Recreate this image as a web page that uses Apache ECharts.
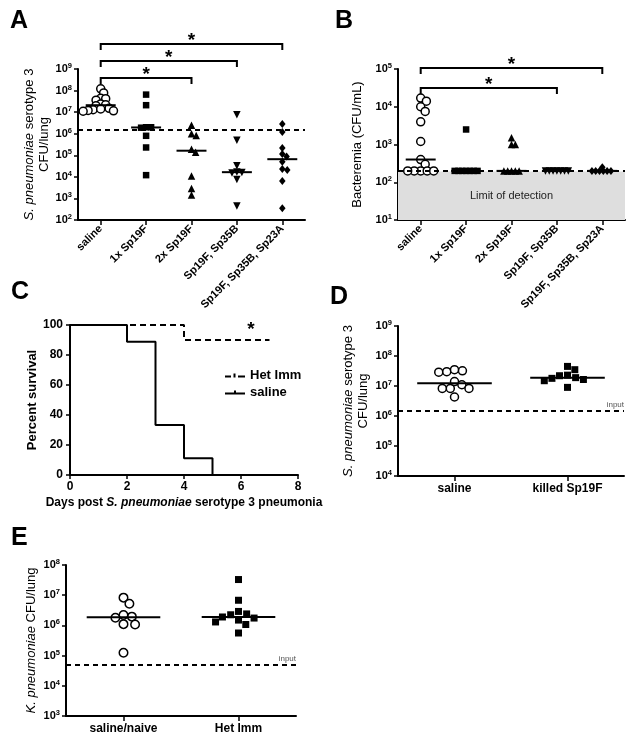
<!DOCTYPE html>
<html><head><meta charset="utf-8">
<script src="https://cdn.jsdelivr.net/npm/echarts@6/dist/echarts.min.js"></script>
<style>html,body{margin:0;padding:0;background:#fff}#c{width:635px;height:741px}</style>
</head><body><div id="c"></div>
<script>
// ---------------- DATA ----------------
const catsA = ['saline', '1x Sp19F', '2x Sp19F', 'Sp19F, Sp35B', 'Sp19F, Sp35B, Sp23A'];
const lungA_saline = [1.2e8, 7.8e7, 4.4e7, 3.6e7, 4.2e7, 2.4e7, 2.2e7, 2.0e7, 1.5e7, 1.3e7, 1.2e7, 1.1e7, 1.15e7, 1.4e7];
const lungA_1x = [6.5e7, 2.1e7, 2.0e6, 1.9e6, 2.0e6, 8.0e5, 2.3e5, 1.2e4];
const lungA_2x = [2.5e6, 1.0e6, 8.3e5, 1.4e5, 1.9e5, 1.1e4, 1.45e3, 2.9e3];
const lungA_19F35B = [7.5e6, 5.0e5, 3.3e4, 1.7e4, 1.5e4, 7.5e3, 1.6e4, 4.5e2];
const lungA_19F35B23A = [2.8e6, 1.2e6, 1.15e5, 5.0e4, 8.7e4, 2.2e5, 2.3e4, 2.1e4, 6.5e3, 3.5e2];
const inputA = 1.45e6;
const bracketsA = [[0, 2], [0, 3], [0, 4]];

const catsB = catsA;
const bloodB_saline = [1.7e4, 1.4e4, 1.0e4, 7.5e3, 4.0e3, 1.2e3, 400, 300, 200, 200, 200, 200, 200];
const bloodB_1x = [2500, 200, 200, 200, 200, 200, 200, 200];
const bloodB_2x = [1500, 1000, 1000, 200, 200, 200, 200, 200];
const bloodB_19F35B = [200, 200, 200, 200, 200, 200, 200];
const bloodB_19F35B23A = [250, 200, 200, 200, 200, 200, 200];
const limitB = 200;
const bracketsB = [[0, 3], [0, 4]];

const daysSaline = [0, 2, 3, 4, 5];
const survSaline = [100, 88.9, 33.3, 11.1, 0];
const daysHet = [0, 4, 7];
const survHet = [100, 90, 90];
const starC = [6.35, 97];

const catsD = ['saline', 'killed Sp19F'];
const lungD_saline = [3.2e7, 2.9e7, 3.0e7, 3.5e7, 1.1e7, 8.3e6, 8.3e6, 8.3e6, 1.4e7, 4.3e6];
const lungD_killed = [3.5e7, 4.5e7, 1.65e7, 2.2e7, 1.5e7, 1.8e7, 1.9e7, 2.3e7, 9.0e6];
const inputD = 1.5e6;

const catsE = ['saline/naive', 'Het Imm'];
const lungE_saline = [8.3e6, 5.2e6, 1.95e6, 2.2e6, 1.8e6, 1.1e6, 1.07e6, 1.25e5];
const lungE_het = [3.3e7, 6.8e6, 2.9e6, 2.25e6, 1.75e6, 1.3e6, 5.6e5, 1.07e6, 1.5e6, 1.9e6, 2.4e6];
const inputE = 4.8e4;

// ---------------- LAYOUT / STYLE ----------------
const FF = 'Liberation Sans, Arial, sans-serif';
const G = {
  A: {left: 78, top: 69, width: 227, height: 151},
  B: {left: 398, top: 69, width: 227, height: 151},
  C: {left: 70, top: 325, width: 228, height: 150},
  D: {left: 398, top: 326, width: 226, height: 150},
  E: {left: 66, top: 565, width: 230, height: 151}
};
const SYM = {
  circle: {symbol: 'circle', size: 8, style: {color: '#fff', borderColor: '#000', borderWidth: 1.5}},
  square: {symbol: 'rect', size: 6.5, style: {color: '#000'}},
  up: {symbol: 'triangle', size: 7.5, style: {color: '#000'}},
  down: {symbol: 'triangle', size: 7.5, rotate: 180, style: {color: '#000'}},
  diamond: {symbol: 'diamond', size: [6.5, 8], style: {color: '#000'}}
};

function median(a) {
  const s = a.slice().sort((x, y) => x - y), n = s.length;
  return n % 2 ? s[(n - 1) / 2] : Math.sqrt(s[n / 2 - 1] * s[n / 2]);
}
// beeswarm layout: horizontal offsets (px) so that symbols do not overlap more than d
function swarm(vals, pxDec, d) {
  const y = vals.map(v => -Math.log10(v) * pxDec);
  const order = vals.map((_, i) => i).sort((a, b) => y[a] - y[b]);
  const placed = [], off = new Array(vals.length).fill(0);
  order.forEach(i => {
    const cands = [0];
    placed.forEach(p => {
      const dy = y[i] - p.y;
      if (Math.abs(dy) < d) {
        const dx = Math.sqrt(d * d - dy * dy);
        cands.push(p.x + dx + 0.01, p.x - dx - 0.01);
      }
    });
    cands.sort((a, b) => (Math.abs(a) - Math.abs(b)) || (b - a));
    for (const c of cands) {
      if (placed.every(p => (p.x - c) ** 2 + (p.y - y[i]) ** 2 >= d * d - 1e-6)) {
        off[i] = c; placed.push({x: c, y: y[i]}); break;
      }
    }
  });
  return off;
}
function scatterGroup(vals, gi, xi, yi, sym, d, grid, nCat, decades) {
  const pxDec = grid.height / decades, catPx = grid.width / nCat;
  const offs = swarm(vals, pxDec, d);
  return {
    type: 'scatter', xAxisIndex: xi, yAxisIndex: yi, silent: true, z: 4,
    symbol: sym.symbol, symbolSize: sym.size, symbolRotate: sym.rotate || 0,
    itemStyle: Object.assign({opacity: 1}, sym.style),
    data: vals.map((v, k) => [gi + offs[k] / catPx, v])
  };
}
function medianSeries(groups, xi, yi, hw) {
  return {
    type: 'custom', xAxisIndex: xi, yAxisIndex: yi, silent: true, z: 5,
    data: groups.map((g, i) => [i, median(g)]),
    renderItem: (p, api) => {
      const i = api.value(0), m = api.value(1);
      const a = api.coord([i - hw, m]), b = api.coord([i + hw, m]);
      return {type: 'line', shape: {x1: a[0], y1: a[1], x2: b[0], y2: b[1]}, style: {stroke: '#000', lineWidth: 2}};
    }
  };
}
function bracketSeries(pairs, levels, xi, yi, yRef) {
  return {
    type: 'custom', xAxisIndex: xi, yAxisIndex: yi, silent: true, z: 6, clip: false,
    data: pairs.map((pr, k) => [pr[0], pr[1], levels[k]]),
    renderItem: (p, api) => {
      const top = p.coordSys.y + api.value(2);
      const x1 = api.coord([api.value(0), yRef])[0], x2 = api.coord([api.value(1), yRef])[0];
      return {type: 'group', children: [
        {type: 'polyline', shape: {points: [[x1, top + 6], [x1, top], [x2, top], [x2, top + 6]]},
         style: {stroke: '#000', lineWidth: 2, fill: null}},
        {type: 'text', style: {text: '*', x: (x1 + x2) / 2, y: top + 6, align: 'center', verticalAlign: 'bottom',
         font: 'bold 19px ' + FF, fill: '#000'}}
      ]};
    }
  };
}
const axLine = {show: true, onZero: false, lineStyle: {color: '#000', width: 2}};
const axTick = {show: true, length: 4, lineStyle: {color: '#000', width: 1.5}};
function logY(gi, min, max, name, nameGap) {
  return {
    type: 'log', logBase: 10, gridIndex: gi, min: min, max: max, splitNumber: 10,
    axisLine: axLine, axisTick: axTick, splitLine: {show: false}, minorTick: {show: false},
    axisLabel: {
      margin: 6, color: '#000',
      formatter: v => '{b|10}{s|' + Math.round(Math.log10(v)) + '}',
      rich: {
        b: {fontSize: 11, fontWeight: 'bold', fontFamily: FF, color: '#000', lineHeight: 14},
        s: {fontSize: 7.5, fontWeight: 'bold', fontFamily: FF, color: '#000', verticalAlign: 'top', lineHeight: 14, padding: [0, 0, 4, 0]}
      }
    },
    name: name, nameLocation: 'middle', nameRotate: 90, nameGap: nameGap,
    nameTextStyle: {fontSize: 13, fontFamily: FF, color: '#000', lineHeight: 15,
      rich: {i: {fontSize: 13, fontStyle: 'italic', fontFamily: FF, color: '#000', lineHeight: 15},
             n: {fontSize: 13, fontFamily: FF, color: '#000', lineHeight: 15}}}
  };
}
function catX(gi, cats, rotate, fs) {
  return {
    type: 'category', gridIndex: gi, data: cats, boundaryGap: true,
    axisLine: axLine, axisTick: {show: true, alignWithLabel: true, length: 5, lineStyle: {color: '#000', width: 1.5}},
    axisLabel: {rotate: rotate, margin: 7, interval: 0, color: '#000', fontSize: fs, fontWeight: 'bold', fontFamily: FF}
  };
}
function hidX(gi, n) {
  return {type: 'value', gridIndex: gi, min: -0.5, max: n - 0.5, show: false, splitLine: {show: false}};
}
function dashedLine(val, withLabel) {
  return {
    silent: true, symbol: ['none', 'none'], animation: false,
    lineStyle: {color: '#000', width: 2, type: [5, 4]},
    label: withLabel ? {show: true, position: 'insideEndTop', formatter: 'input', fontSize: 8, color: '#555', fontFamily: FF, distance: [0, 2]} : {show: false},
    data: [{yAxis: val}]
  };
}

// ---------------- BUILD ----------------
const grids = [G.A, G.B, G.C, G.D, G.E];
const xAxes = [
  catX(0, catsA, 45, 11), hidX(0, 5),
  catX(1, catsB, 45, 11), hidX(1, 5),
  {type: 'value', gridIndex: 2, min: 0, max: 8, interval: 2, axisLine: axLine, axisTick: axTick, splitLine: {show: false},
   axisLabel: {color: '#000', fontSize: 12, fontWeight: 'bold', fontFamily: FF, margin: 6},
   name: 'Days post {i|S. pneumoniae} serotype 3 pneumonia', nameLocation: 'middle', nameGap: 22,
   nameTextStyle: {fontSize: 12, fontWeight: 'bold', fontFamily: FF, color: '#000',
     rich: {i: {fontSize: 12, fontWeight: 'bold', fontStyle: 'italic', fontFamily: FF, color: '#000'}}}},
  catX(3, catsD, 0, 12), hidX(3, 2),
  catX(4, catsE, 0, 12), hidX(4, 2)
];
const yAxes = [
  logY(0, 1e2, 1e9, '{i|S. pneumoniae}{n| serotype 3}\n{n|CFU/lung}', 26),
  logY(1, 1e1, 1e5, 'Bacteremia (CFU/mL)', 33),
  {type: 'value', gridIndex: 2, min: 0, max: 100, interval: 20, axisLine: axLine, axisTick: axTick, splitLine: {show: false},
   axisLabel: {color: '#000', fontSize: 12, fontWeight: 'bold', fontFamily: FF, margin: 7},
   name: 'Percent survival', nameLocation: 'middle', nameRotate: 90, nameGap: 30,
   nameTextStyle: {fontSize: 13, fontWeight: 'bold', fontFamily: FF, color: '#000'}},
  logY(3, 1e4, 1e9, '{i|S. pneumoniae}{n| serotype 3}\n{n|CFU/lung}', 27),
  logY(4, 1e3, 1e8, '{i|K. pneumoniae}{n| CFU/lung}', 27)
];

const series = [];
// Panel A
const groupsA = [lungA_saline, lungA_1x, lungA_2x, lungA_19F35B, lungA_19F35B23A];
const symsA = [SYM.circle, SYM.square, SYM.up, SYM.down, SYM.diamond];
groupsA.forEach((g, i) => {
  const s = scatterGroup(g, i, 1, 0, symsA[i], 5, G.A, 5, 7);
  if (i === 0) s.markLine = dashedLine(inputA, false);
  series.push(s);
});
series.push(medianSeries(groupsA, 1, 0, 0.33));
series.push(bracketSeries(bracketsA, [9, -8, -25], 1, 0, 1e5));
// Panel B
const groupsB = [bloodB_saline, bloodB_1x, bloodB_2x, bloodB_19F35B, bloodB_19F35B23A];
groupsB.forEach((g, i) => {
  const s = scatterGroup(g, i, 3, 1, symsA[i], i === 0 ? 6.5 : 3.8, G.B, 5, 4);
  if (i === 0) {
    s.markArea = {silent: true, itemStyle: {color: '#dedede'},
      label: {show: true, position: 'inside', formatter: 'Limit of detection', color: '#222', fontSize: 11, fontFamily: FF},
      data: [[{yAxis: 10}, {yAxis: limitB * 0.97}]]};
    s.markLine = dashedLine(limitB, false);
  }
  series.push(s);
});
series.push(medianSeries(groupsB, 3, 1, 0.33));
series.push(bracketSeries(bracketsB, [19, -1], 3, 1, 1e3));
// Panel C
series.push({type: 'line', name: 'Het Imm', xAxisIndex: 4, yAxisIndex: 2, step: 'end', symbol: 'none', silent: true,
  itemStyle: {color: '#000'}, lineStyle: {color: '#000', width: 2, type: [6, 4]},
  data: daysHet.map((d, i) => [d, survHet[i]])});
series.push({type: 'line', name: 'saline', xAxisIndex: 4, yAxisIndex: 2, step: 'end', symbol: 'none', silent: true, z: 3,
  itemStyle: {color: '#000'}, lineStyle: {color: '#000', width: 2},
  data: daysSaline.map((d, i) => [d, survSaline[i]])});
series.push({type: 'custom', xAxisIndex: 4, yAxisIndex: 2, silent: true, data: [starC],
  renderItem: (p, api) => {
    const c = api.coord([api.value(0), api.value(1)]);
    return {type: 'text', style: {text: '*', x: c[0], y: c[1], align: 'center', verticalAlign: 'middle', font: 'bold 19px ' + FF, fill: '#000'}};
  }});
// Panel D
const groupsD = [lungD_saline, lungD_killed];
const symsD = [SYM.circle, SYM.square];
groupsD.forEach((g, i) => {
  const s = scatterGroup(g, i, 6, 3, Object.assign({}, symsD[i], {size: i ? 7 : 8}), 8, G.D, 2, 5);
  if (i === 0) s.markLine = dashedLine(inputD, true);
  series.push(s);
});
series.push(medianSeries(groupsD, 6, 3, 0.33));
// Panel E
const groupsE = [lungE_saline, lungE_het];
groupsE.forEach((g, i) => {
  const s = scatterGroup(g, i, 8, 4, Object.assign({}, symsD[i], {size: i ? 7 : 8.5}), 8.5, G.E, 2, 5);
  if (i === 0) s.markLine = dashedLine(inputE, true);
  series.push(s);
});
series.push(medianSeries(groupsE, 8, 4, 0.32));

const letters = [['A', 10, 9], ['B', 335, 9], ['C', 11, 280], ['D', 330, 285], ['E', 11, 526]];

const chart = echarts.init(document.getElementById('c'), null, {renderer: 'canvas'});
chart.setOption({
  animation: false,
  backgroundColor: '#fff',
  textStyle: {fontFamily: FF},
  grid: grids.map(g => Object.assign({containLabel: false}, g)),
  xAxis: xAxes,
  yAxis: yAxes,
  legend: {
    data: [
      {name: 'Het Imm', icon: 'path://M0,2h6v2h-6z M8.5,0h2v4h-2z M13,2h7v2h-7z'},
      {name: 'saline', icon: 'path://M0,2h20v2h-20z M9,0h2v2h-2z'}
    ],
    orient: 'vertical', left: 220, top: 364, itemWidth: 20, itemHeight: 4, itemGap: 4,
    itemStyle: {color: '#000', borderWidth: 0},
    textStyle: {fontSize: 13, fontWeight: 'bold', fontFamily: FF, color: '#000'},
    selectedMode: false
  },
  graphic: letters.map(l => ({type: 'text', left: l[1], top: l[2], silent: true,
    style: {text: l[0], font: 'bold 25px ' + FF, fill: '#000'}})),
  series: series
});
</script></body></html>
